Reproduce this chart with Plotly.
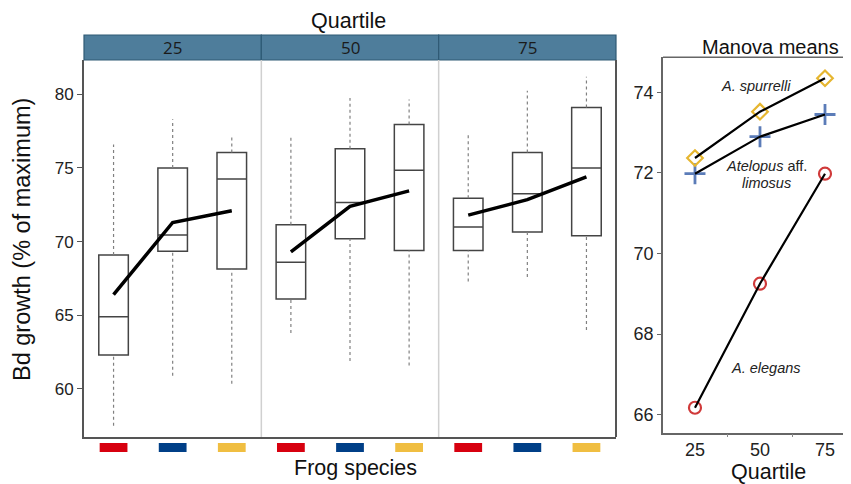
import plotly.graph_objects as go

W, H = 851, 484
OFF = 8  # default page body margin
FW, FH = W - OFF, H - OFF

quartiles = ["25", "50", "75"]
species = ["A. elegans", "Atelopus aff. limosus", "A. spurrelli"]
species_colors = ["#d7000f", "#003f87", "#f0be41"]

# Box statistics per quartile facet, per species (elegans, limosus, spurrelli)
whisker_low = [[57.5, 60.9, 60.35], [63.8, 61.9, 61.6], [67.3, 67.6, 64.0]]
q1 = [[62.3, 69.35, 68.15], [66.1, 70.2, 69.4], [69.4, 70.65, 70.4]]
median = [[64.9, 70.45, 74.25], [68.6, 72.65, 74.85], [71.0, 73.25, 75.0]]
q3 = [[69.1, 75.0, 76.05], [71.15, 76.3, 77.95], [72.95, 76.05, 79.1]]
whisker_high = [[76.6, 78.3, 77.1], [77.15, 79.75, 79.65], [77.4, 80.25, 81.2]]
group_means = [[66.4, 71.3, 72.1], [69.3, 72.4, 73.45], [71.8, 72.85, 74.4]]

# Manova means (right panel)
manova_x = [25, 50, 75]
manova_elegans = [66.17, 69.25, 71.98]
manova_limosus = [71.98, 72.9, 73.45]
manova_spurrelli = [72.37, 73.52, 74.35]

def px_x(p):
    return (p - OFF) / FW

def px_y(p):
    return 1 - (p - OFF) / FH

fig = go.Figure()

left, right = 84, 616
facet_w = (right - left) / 3
plot_top, plot_bot = 60, 437
ydom = [px_y(plot_bot), px_y(plot_top)]
cats = [1, 2, 3]
ff = "Liberation Sans, Arial"

for f in range(3):
    xa = "x" if f == 0 else f"x{f+1}"
    ya = "y" if f == 0 else f"y{f+1}"
    # whiskers (dotted)
    for i, c in enumerate(cats):
        fig.add_trace(go.Scatter(x=[c, c], y=[q3[f][i], whisker_high[f][i]], mode="lines",
                                 line=dict(color="#808080", width=1.2, dash="dot"),
                                 xaxis=xa, yaxis=ya, showlegend=False, hoverinfo="skip"))
        fig.add_trace(go.Scatter(x=[c, c], y=[whisker_low[f][i], q1[f][i]], mode="lines",
                                 line=dict(color="#808080", width=1.2, dash="dot"),
                                 xaxis=xa, yaxis=ya, showlegend=False, hoverinfo="skip"))
    fig.add_trace(go.Box(x=cats, q1=q1[f], median=median[f], q3=q3[f],
                         lowerfence=q1[f], upperfence=q3[f], width=0.5,
                         fillcolor="white", line=dict(color="#444444", width=1.5),
                         xaxis=xa, yaxis=ya, showlegend=False, hoverinfo="skip"))
    fig.add_trace(go.Scatter(x=cats, y=group_means[f], mode="lines",
                             line=dict(color="black", width=3.5),
                             xaxis=xa, yaxis=ya, showlegend=False, hoverinfo="skip"))
    x0 = left + f * facet_w
    x1 = x0 + facet_w
    ax = dict(domain=[px_x(x0), px_x(x1)], range=[0.5, 3.5], showticklabels=False,
              showgrid=False, zeroline=False, ticks="", showline=True,
              linecolor="#555555", linewidth=2, mirror=False, fixedrange=True)
    ay = dict(domain=ydom, range=[56.74, 82.33], showgrid=False, zeroline=False,
              fixedrange=True)
    if f == 0:
        ay.update(showline=True, linecolor="#555555", linewidth=2, ticks="outside",
                  ticklen=5, tickcolor="#555555", tickvals=[60, 65, 70, 75, 80],
                  tickfont=dict(size=17, color="#222222", family=ff))
    else:
        ay.update(showticklabels=False, matches="y", ticks="")
    if f == 0:
        fig.update_layout(xaxis=ax, yaxis=ay)
    else:
        ay["anchor"] = xa
        ax["anchor"] = ya
        fig.update_layout(**{f"xaxis{f+1}": ax, f"yaxis{f+1}": ay})
    # facet header strip
    fig.add_shape(type="rect", xref="paper", yref="paper", x0=px_x(x0), x1=px_x(x1),
                  y0=px_y(60), y1=px_y(35), fillcolor="#4e7d9b",
                  line=dict(color="#2f5a75", width=1.2))
    fig.add_annotation(x=(px_x(x0) + px_x(x1)) / 2, y=px_y(47.5), xref="paper", yref="paper",
                       text=quartiles[f], showarrow=False, xanchor="center", yanchor="middle",
                       font=dict(size=17, color="#1a1a1a", family="Open Sans, Liberation Sans"))
    # species colour keys under each box
    for i, c in enumerate(cats):
        fig.add_shape(type="rect", xref=xa, yref="paper", x0=c - 0.235, x1=c + 0.235,
                      y0=px_y(452), y1=px_y(443), fillcolor=species_colors[i],
                      line=dict(width=0))

# facet dividers and right border
for f in (1, 2):
    xp = px_x(left + f * facet_w)
    fig.add_shape(type="line", xref="paper", yref="paper", x0=xp, x1=xp,
                  y0=px_y(plot_bot), y1=px_y(plot_top), line=dict(color="#d0d0d0", width=1.5))
fig.add_shape(type="line", xref="paper", yref="paper", x0=px_x(right), x1=px_x(right),
              y0=px_y(plot_bot), y1=px_y(plot_top), line=dict(color="#555555", width=2))

# Right panel: Manova means
mk = dict(xaxis="x4", yaxis="y4", showlegend=False, hoverinfo="skip")
fig.add_trace(go.Scatter(x=manova_x, y=manova_elegans, mode="markers",
                         marker=dict(symbol="circle-open", size=12, color="#d03a3a",
                                     line=dict(width=2.2, color="#d03a3a")), **mk))
fig.add_trace(go.Scatter(x=manova_x, y=manova_limosus, mode="markers",
                         marker=dict(symbol="cross-thin-open", size=15, color="#5b7cb8",
                                     line=dict(width=2.8, color="#5b7cb8")), **mk))
fig.add_trace(go.Scatter(x=manova_x, y=manova_spurrelli, mode="markers",
                         marker=dict(symbol="diamond-open", size=12, color="#e6b630",
                                     line=dict(width=2.2, color="#e6b630")), **mk))
for ys in (manova_elegans, manova_limosus, manova_spurrelli):
    fig.add_trace(go.Scatter(x=manova_x, y=ys, mode="lines",
                             line=dict(color="black", width=2.2), **mk))

fig.update_layout(
    xaxis4=dict(domain=[px_x(663), 1.0], range=[12.7, 85], anchor="y4",
                tickvals=[25, 50, 75], ticks="", ticklen=4, tickcolor="#666666",
                minor=dict(tickvals=[37.5, 62.5], ticks="outside", ticklen=3,
                           tickcolor="#888888", showgrid=False),
                showline=True, linecolor="#666666", linewidth=1.5, showgrid=False,
                zeroline=False, tickfont=dict(size=18, color="#222222", family=ff),
                fixedrange=True),
    yaxis4=dict(domain=[px_y(432.7), px_y(57.3)], range=[65.55, 74.87], anchor="x4",
                tickvals=[66, 68, 70, 72, 74], ticks="outside", ticklen=4,
                tickcolor="#666666", showline=True, linecolor="#666666", linewidth=1.5,
                showgrid=False, zeroline=False,
                tickfont=dict(size=18, color="#222222", family=ff),
                fixedrange=True),
)
fig.add_shape(type="line", xref="paper", yref="paper", x0=px_x(663), x1=1.0,
              y0=px_y(57.3), y1=px_y(57.3), line=dict(color="#666666", width=1.5))

txt = dict(showarrow=False, xref="paper", yref="paper", xanchor="center", yanchor="middle")
fig.add_annotation(x=px_x(756), y=px_y(86), text="<i>A. spurrelli</i>",
                   font=dict(size=14.5, color="#222222", family=ff), **txt)
fig.add_annotation(x=px_x(766), y=px_y(166), text="<i>Atelopus</i> aff.",
                   font=dict(size=14.5, color="#222222", family=ff), **txt)
fig.add_annotation(x=px_x(766), y=px_y(183), text="<i>limosus</i>",
                   font=dict(size=14.5, color="#222222", family=ff), **txt)
fig.add_annotation(x=px_x(766), y=px_y(367.5), text="<i>A. elegans</i>",
                   font=dict(size=14.5, color="#222222", family=ff), **txt)

# Titles
fig.add_annotation(x=px_x(770), y=px_y(46.5), text="Manova means",
                   font=dict(size=20, color="#111111", family=ff), **txt)
fig.add_annotation(x=px_x(348), y=px_y(21), text="Quartile",
                   font=dict(size=21.5, color="#111111", family=ff), **txt)
fig.add_annotation(x=px_x(355), y=px_y(468), text="Frog species",
                   font=dict(size=21.5, color="#111111", family=ff), **txt)
fig.add_annotation(x=px_x(768), y=px_y(472), text="Quartile",
                   font=dict(size=21.5, color="#111111", family=ff), **txt)
fig.add_annotation(x=px_x(22), y=px_y(240), text="Bd growth (% of maximum)", textangle=-90,
                   font=dict(size=23.5, color="#111111", family=ff), **txt)

fig.update_layout(width=FW, height=FH, margin=dict(l=0, r=0, t=0, b=0),
                  plot_bgcolor="white", paper_bgcolor="white", showlegend=False)

fig.write_html("out.html")
